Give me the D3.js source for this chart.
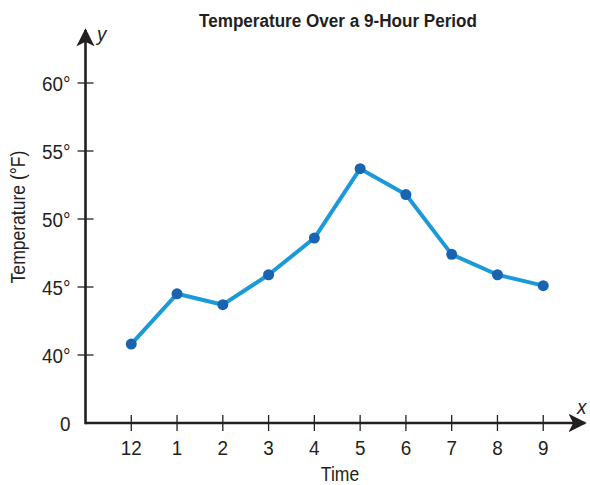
<!DOCTYPE html>
<html>
<head>
<meta charset="utf-8">
<script src="https://cdn.jsdelivr.net/npm/d3@7"></script>
<style>
  body { margin: 0; background: #fff; }
  text { font-family: "Liberation Sans", Arial, sans-serif; fill: #231f20; }
</style>
</head>
<body>
<div id="chart"></div>
<script>
var hours = ["12", "1", "2", "3", "4", "5", "6", "7", "8", "9"];
var temps = [40.8, 44.5, 43.7, 45.9, 48.6, 53.7, 51.8, 47.4, 45.9, 45.1];
// 35 stands in for the broken-axis "0"
var yTicks = [35, 40, 45, 50, 55, 60];

var width = 590, height = 485;
var squeeze = 0.9; // fake a slightly condensed face

var svg = d3.select("#chart").append("svg")
    .attr("width", width)
    .attr("height", height);

var x = d3.scaleLinear()
    .domain([-1, 10])
    .range([85.5, 589]);

var y = d3.scaleLinear()
    .domain([35, 60])
    .range([423, 83]);

var ink = "#231f20";

function label(parent, px, py, str, rot){
    return parent.append("text")
        .attr("transform", "translate(" + px + "," + py + ")" + (rot ? " rotate(" + rot + ")" : "") + " scale(" + squeeze + ",1)")
        .text(str);
}

svg.append("defs").append("marker")
    .attr("id", "arrow")
    .attr("viewBox", "0 0 10 10")
    .attr("refX", 9).attr("refY", 5)
    .attr("markerWidth", 7).attr("markerHeight", 7)
    .attr("markerUnits", "strokeWidth")
    .attr("orient", "auto")
  .append("path")
    .attr("d", "M0,0 L10,5 L0,10 L2.5,5 Z")
    .attr("fill", ink);

// axes
svg.append("line")
    .attr("x1", x(-1)).attr("y1", y(35))
    .attr("x2", 585).attr("y2", y(35))
    .attr("stroke", ink).attr("stroke-width", 2.6)
    .attr("marker-end", "url(#arrow)");

svg.append("line")
    .attr("x1", x(-1)).attr("y1", y(35) + 1.3)
    .attr("x2", x(-1)).attr("y2", 30)
    .attr("stroke", ink).attr("stroke-width", 2.6)
    .attr("marker-end", "url(#arrow)");

// x ticks
var xt = svg.selectAll(".xtick")
    .data(hours)
    .enter().append("g")
    .attr("transform", function(d, i){ return "translate(" + x(i) + "," + y(35) + ")"; });
xt.append("line").attr("y1", -8).attr("y2", 8).attr("stroke", ink).attr("stroke-width", 1.3);
xt.each(function(d){
    label(d3.select(this), 0, 32, d)
        .attr("text-anchor", "middle")
        .style("font-size", "21px");
});

// y ticks
var yt = svg.selectAll(".ytick")
    .data(yTicks)
    .enter().append("g")
    .attr("transform", function(d){ return "translate(" + x(-1) + "," + y(d) + ")"; });
yt.filter(function(d){ return d > 35; })
    .append("line").attr("x1", -8).attr("x2", 8).attr("stroke", ink).attr("stroke-width", 1.3);
yt.each(function(d){
    label(d3.select(this), -15, 0, d === 35 ? "0" : d + "\u00b0")
        .attr("dy", "0.36em")
        .attr("text-anchor", "end")
        .style("font-size", "21px");
});

// axis letters
label(svg, 97, 41, "y").style("font-size", "21px").style("font-style", "italic");
label(svg, 577, 414, "x").style("font-size", "21px").style("font-style", "italic");

// titles
label(svg, 338, 27, "Temperature Over a 9-Hour Period")
    .attr("text-anchor", "middle")
    .style("font-size", "19px").style("font-weight", "bold");

label(svg, 340, 481, "Time")
    .attr("text-anchor", "middle")
    .style("font-size", "19.5px");

label(svg, 25, 217, "Temperature (\u00b0F)", -90)
    .attr("text-anchor", "middle")
    .style("font-size", "19.5px");

// data line
var line = d3.line()
    .x(function(d, i){ return x(i); })
    .y(function(d){ return y(d); });

svg.append("path")
    .datum(temps)
    .attr("d", line)
    .attr("fill", "none")
    .attr("stroke", "#1b99d8")
    .attr("stroke-width", 4)
    .attr("stroke-linejoin", "round");

svg.selectAll(".dot")
    .data(temps)
    .enter().append("circle")
    .attr("cx", function(d, i){ return x(i); })
    .attr("cy", function(d){ return y(d); })
    .attr("r", 5.5)
    .attr("fill", "#1a63b1");
</script>
</body>
</html>
